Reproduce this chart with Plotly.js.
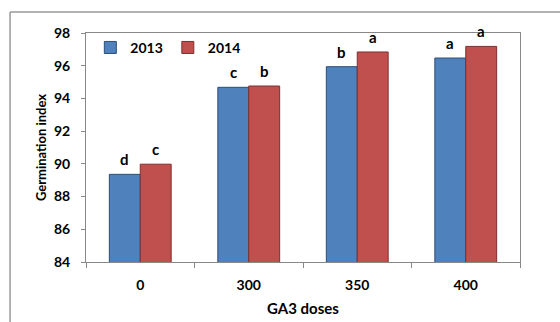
<!DOCTYPE html>
<html><head><meta charset="utf-8">
<script src="https://cdn.plot.ly/plotly-3.0.1.min.js"></script>
<style>html,body{margin:0;padding:0;background:#fff}#c{width:560px;height:322px}</style>
</head><body><div id="c"></div>
<script>
const categories = ["0", "300", "350", "400"];
const values2013 = [89.36, 94.68, 95.94, 96.47];
const values2014 = [89.98, 94.76, 96.84, 97.18];
const letters2013 = ["d", "c", "b", "a"];
const letters2014 = ["c", "b", "a", "a"];
const yTicks = [84, 86, 88, 90, 92, 94, 96, 98];

const FONT = "Lato, Carlito, Calibri, sans-serif";

const traces = [
  {type: "bar", name: "2013", x: categories, y: values2013,
   marker: {color: "#4f81bd", line: {color: "#2c4d75", width: 1}}},
  {type: "bar", name: "2014", x: categories, y: values2014,
   marker: {color: "#c0504d", line: {color: "#7f2f2d", width: 1}}}
];

const annotations = [];
categories.forEach((c, i) => {
  annotations.push({x: i, y: values2013[i], xref: "x", yref: "y", text: letters2013[i], showarrow: false,
    xshift: -15.5, yanchor: "bottom", yshift: 4, font: {family: FONT, size: 15, color: "#000", weight: "bold"}});
  annotations.push({x: i, y: values2014[i], xref: "x", yref: "y", text: letters2014[i], showarrow: false,
    xshift: 15.5, yanchor: "bottom", yshift: 4, font: {family: FONT, size: 15, color: "#000", weight: "bold"}});
});

const layout = {
  width: 560, height: 322,
  margin: {l: 86, r: 40, t: 33, b: 60},
  paper_bgcolor: "#fff", plot_bgcolor: "#fff",
  font: {family: FONT, size: 13, color: "#000"},
  barmode: "group", bargap: 0.43, bargroupgap: 0,
  showlegend: true,
  legend: {orientation: "h", x: 0.01, y: 1.005, xanchor: "left", yanchor: "top",
    bgcolor: "rgba(0,0,0,0)", font: {family: FONT, size: 14, color: "#000", weight: "bold"},
    itemwidth: 30},
  xaxis: {type: "category", range: [-0.5, categories.length - 0.5], tickson: "boundaries", ticks: "outside", ticklen: 5,
    tickcolor: "#888", showline: true, linecolor: "#888", linewidth: 1, mirror: true,
    showgrid: false, ticklabelstandoff: 10, tickfont: {family: FONT, size: 14, color: "#000", weight: "bold"},
    title: {text: "GA3 doses", font: {family: FONT, size: 15, color: "#000", weight: "bold"}, standoff: 11}},
  yaxis: {range: [84, 98], tickmode: "array", tickvals: yTicks, ticks: "outside", ticklen: 4, tickcolor: "#888",
    showline: true, linecolor: "#888", linewidth: 1, mirror: true, showgrid: false, zeroline: false,
    ticklabelstandoff: 8, tickfont: {family: FONT, size: 14, color: "#000", weight: "bold"},
    title: {text: "Germination index", font: {family: FONT, size: 13, color: "#000", weight: "bold"}, standoff: 4}},
  annotations: annotations,
  shapes: [
    {type: "line", xref: "paper", yref: "paper", x0: -0.175, x1: 1.2, y0: 1.0917, y1: 1.0917,
     line: {color: "#999", width: 1.5}},
    {type: "line", xref: "paper", yref: "paper", x0: -0.175, x1: -0.175, y0: -0.5, y1: 1.0917,
     line: {color: "#999", width: 1.5}}
  ]
};

Plotly.newPlot("c", traces, layout, {displayModeBar: false, staticPlot: true});
</script></body></html>
